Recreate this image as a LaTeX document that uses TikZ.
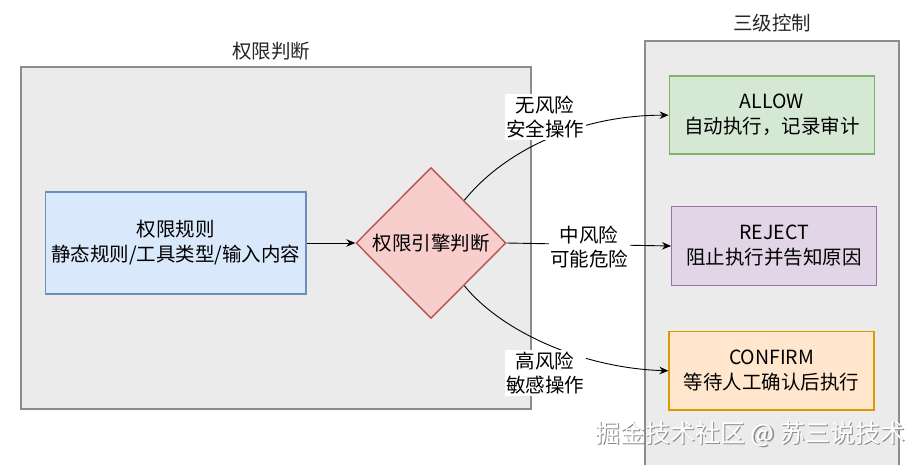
\documentclass[tikz,border=0pt]{standalone}
\usepackage{fontspec}
\setmainfont{Noto Sans CJK SC}
\usetikzlibrary{shapes.geometric,arrows.meta,calc}
\definecolor{contfill}{HTML}{EBEBEB}
\definecolor{contdraw}{HTML}{8C8C8C}
\definecolor{bluefill}{HTML}{DAE8FC}
\definecolor{bluedraw}{HTML}{6C8EBF}
\definecolor{redfill}{HTML}{F8CECC}
\definecolor{reddraw}{HTML}{B85450}
\definecolor{greenfill}{HTML}{D5E8D4}
\definecolor{greendraw}{HTML}{82B366}
\definecolor{purplefill}{HTML}{E1D5E7}
\definecolor{purpledraw}{HTML}{9673A6}
\definecolor{orangefill}{HTML}{FFE6CC}
\definecolor{orangedraw}{HTML}{D79B00}
\tikzset{
  container/.style={draw=contdraw, fill=contfill, line width=1.8pt},
  ctitle/.style={font=\fontsize{19.5}{23}\selectfont, text=black!85, inner sep=0pt},
  boxstyle/.style={rectangle, line width=1.4pt, align=center, inner sep=0pt,
    font=\fontsize{19.5}{25}\selectfont},
  decision/.style={diamond, draw=reddraw, fill=redfill, line width=1.4pt,
    minimum width=150pt, minimum height=151pt, inner sep=0pt,
    font=\fontsize{19.5}{25}\selectfont},
  conn/.style={line width=0.9pt, -{Stealth[length=9pt,width=7.5pt]}},
  elabel/.style={fill=white, align=center, inner sep=1.5pt,
    font=\fontsize{19.5}{24}\selectfont},
  wm/.style={font=\fontsize{25}{28}\selectfont, inner sep=0pt}
}
\begin{document}
\begin{tikzpicture}[x=1pt,y=-1pt]
\useasboundingbox (0,0) rectangle (920,465);
% containers
\draw[container] (20.7,66.7) rectangle (531,409);
\node[ctitle] (t1) at (271,51) {权限判断};
\draw[container] (644.7,41) rectangle (899,470);
\node[ctitle] (t2) at (772,23) {三级控制};
% nodes
\node[boxstyle, draw=bluedraw, fill=bluefill, minimum width=260.7pt, minimum height=102.3pt]
  (rules) at (175.7,243) {权限规则\\静态规则/工具类型/输入内容};
\node[decision] (d) at (431,243) {权限引擎判断};
\node[boxstyle, draw=greendraw, fill=greenfill, minimum width=205pt, minimum height=78pt]
  (allow) at (771.8,115.2) {ALLOW\\自动执行，记录审计};
\node[boxstyle, draw=purpledraw, fill=purplefill, minimum width=204.6pt, minimum height=78.6pt]
  (reject) at (774,246) {REJECT\\阻止执行并告知原因};
\node[boxstyle, draw=orangedraw, fill=orangefill, minimum width=205pt, minimum height=78.3pt]
  (confirm) at (771.6,370.8) {CONFIRM\\等待人工确认后执行};
% anchor points on diamond
\coordinate (dup) at ($(d.north)!0.44!(d.east)$);
\coordinate (ddown) at ($(d.south)!0.44!(d.east)$);
% connectors
\draw[conn] (rules.east) -- (d.west);
\draw[conn] (dup) .. controls (505,150) and (580,115) .. (allow.west);
\draw[conn] (d.east) -- (reject.west);
\draw[conn] (ddown) .. controls (500,330) and (580,368) .. (confirm.west);
% labels
\node[elabel] (l1) at (545,117) {无风险\\安全操作};
\node[elabel] (l2) at (589,247) {中风险\\可能危险};
\node[elabel] (l3) at (545,373) {高风险\\敏感操作};
% watermark
\node[wm, text=black!45, anchor=west] (wms) at (596.2,435.2) {掘金技术社区 @ 苏三说技术};
\node[wm, text=white, anchor=west] (wmt) at (595,434) {掘金技术社区 @ 苏三说技术};
\end{tikzpicture}
\end{document}
